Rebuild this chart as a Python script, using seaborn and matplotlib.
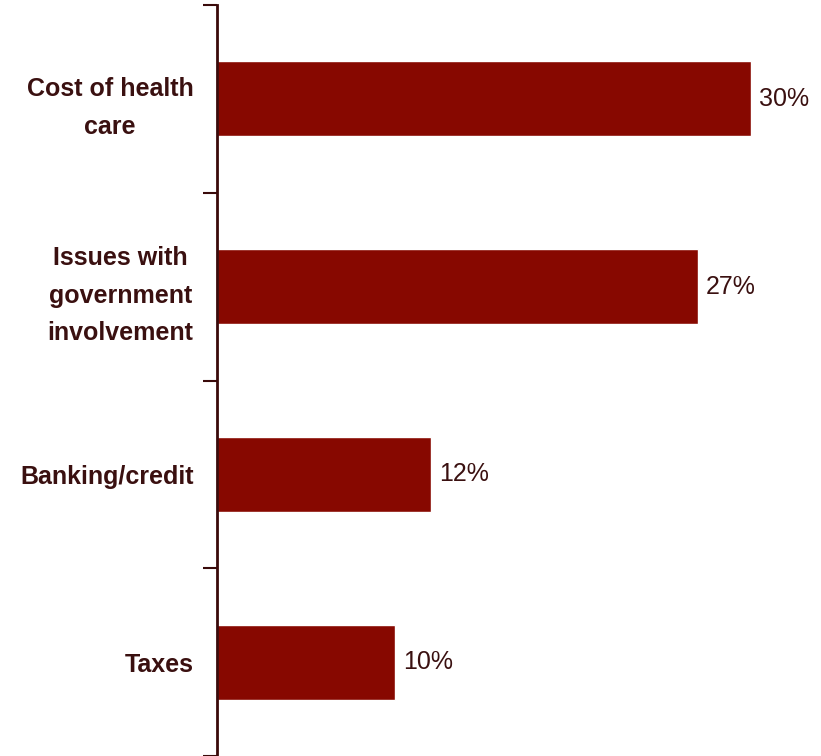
import matplotlib
matplotlib.use("Agg")
import matplotlib.pyplot as plt
import seaborn as sns
import pandas as pd
from matplotlib import font_manager

categories = ["Cost of health\ncare", "Issues with\ngovernment\ninvolvement", "Banking/credit", "Taxes"]
values = [30, 27, 12, 10]
value_labels = ["30%", "27%", "12%", "10%"]

sns.set_style("white")
names = {f.name for f in font_manager.fontManager.ttflist}
fam = "Liberation Sans Narrow" if "Liberation Sans Narrow" in names else "Liberation Sans"
plt.rcParams["font.family"] = [fam, "DejaVu Sans"]

bar_color = "#870800"
text_color = "#3a1010"
spine_color = "#3a0a0a"

df = pd.DataFrame({"cat": categories, "val": values})

fig = plt.figure(figsize=(8.21, 7.56), dpi=100)
ax = fig.add_axes([217/821, 0, (821-217)/821, 751/756])
sns.barplot(data=df, x="val", y="cat", orient="h", color=bar_color, width=0.4,
            saturation=1, ax=ax)
ax.set_xlim(0, (821-217)/17.8)
ax.set_ylim(3.5, -0.5)
for s in ["top", "right", "bottom"]:
    ax.spines[s].set_visible(False)
ax.spines["left"].set_color(spine_color)
ax.spines["left"].set_linewidth(2)
ax.set_xticks([])
ax.set_xlabel("")
ax.set_ylabel("")

ax.set_yticks([-0.5, 0.5, 1.5, 2.5, 3.5])
ax.set_yticklabels([])
ax.tick_params(axis="y", which="major", length=10, width=1.5, color=spine_color, direction="out", left=True)
ax.set_yticks(range(len(categories)), minor=True)
ax.set_yticklabels(categories, minor=True, fontsize=18, fontweight="bold", color=text_color,
                   multialignment="center", linespacing=1.7)
ax.tick_params(axis="y", which="minor", length=0, pad=17)

for i, (v, lab) in enumerate(zip(values, value_labels)):
    ax.annotate(lab, xy=(v, i), xytext=(6, 0), textcoords="offset points",
                ha="left", va="center", fontsize=18, color=text_color)

fig.savefig("out.png", dpi=100)
